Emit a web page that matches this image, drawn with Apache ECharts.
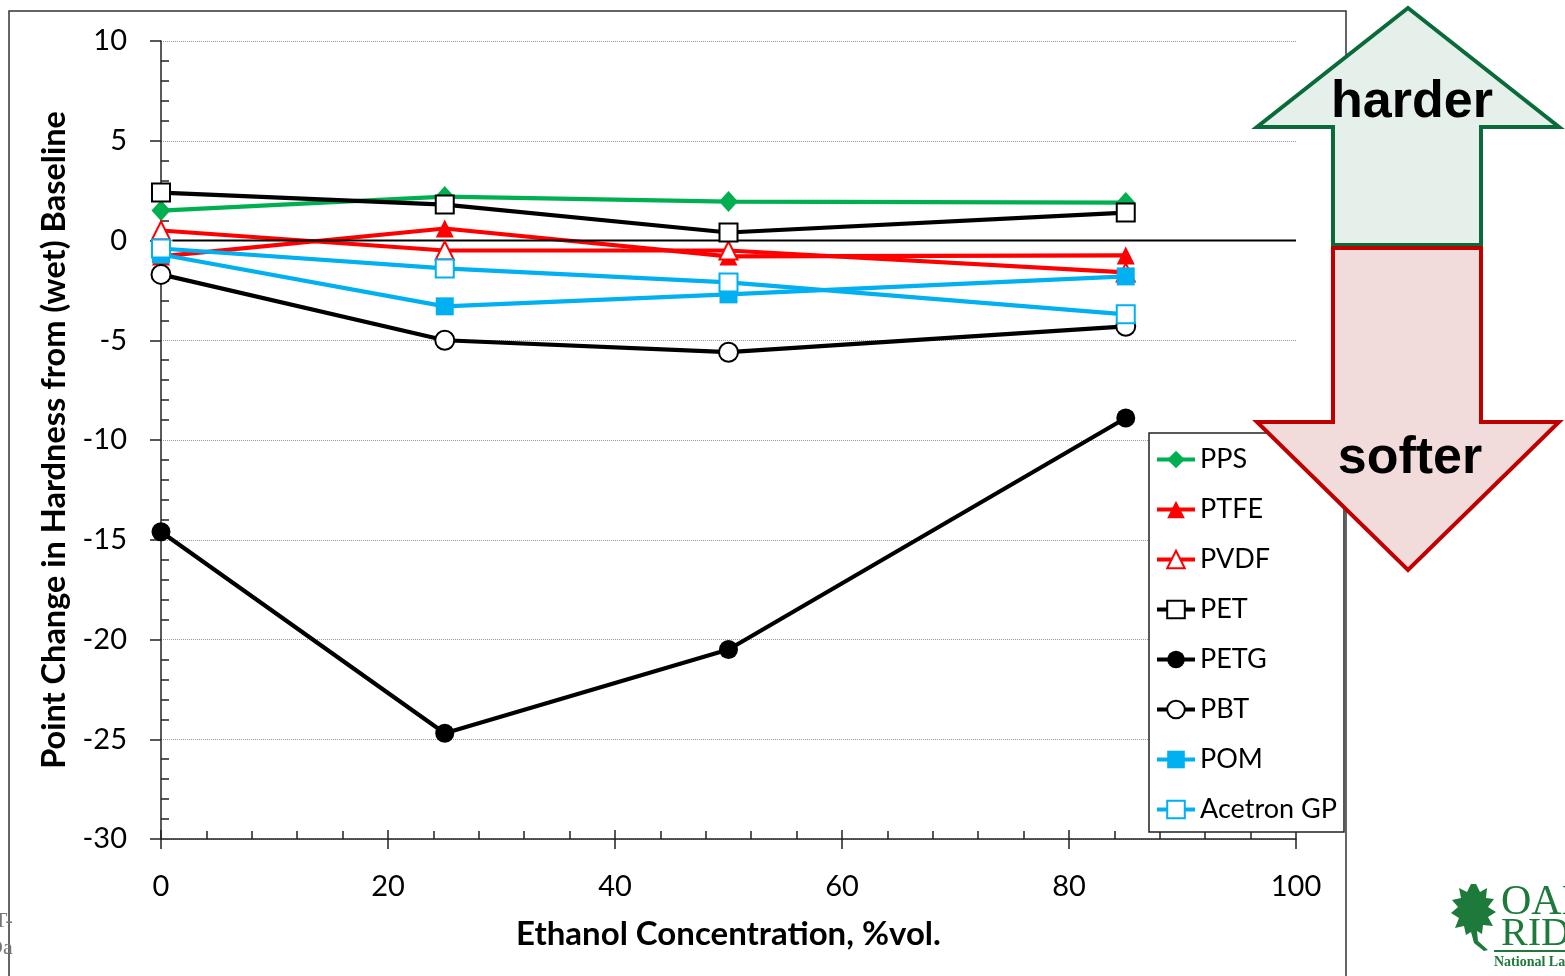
<!DOCTYPE html>
<html><head><meta charset="utf-8">
<script src="https://cdn.jsdelivr.net/npm/echarts@6/dist/echarts.min.js"></script>
<style>html,body{margin:0;padding:0;background:#fff;overflow:hidden}#c{width:1565px;height:976px}</style>
</head><body><div id="c"></div>
<script>
// ---- data ----
const ethanol = [0, 25, 50, 85];
const PPS     = [1.5, 2.2, 1.95, 1.9];
const PTFE    = [-0.8, 0.6, -0.8, -0.75];
const PVDF    = [0.5, -0.5, -0.5, -1.6];
const PET     = [2.4, 1.8, 0.4, 1.4];
const PETG    = [-14.6, -24.7, -20.5, -8.9];
const PBT     = [-1.7, -5.0, -5.6, -4.3];
const POM     = [-0.7, -3.3, -2.7, -1.8];
const Acetron = [-0.4, -1.4, -2.1, -3.7];
const xTicks  = [0, 20, 40, 60, 80, 100];
const yTicks  = [-30, -25, -20, -15, -10, -5, 0, 5, 10];
const zeroLine = [[1, 0], [100, 0]];

const FONT = 'Lato, "Open Sans", sans-serif';
const GREEN = '#00b050', RED = '#ff0000', BLUE = '#00b0f0', BLACK = '#000000';

function pts(ys){ return ethanol.map((x,i)=>[x, ys[i]]); }
function ser(name, ys, color, symbol, size){
  const empty = symbol.startsWith('empty');
  return {
    name, type:'line', data: pts(ys), symbol, symbolSize: size,
    lineStyle:{color, width:4.2}, itemStyle:{color, borderColor: color, borderWidth: empty?1.6:0},
    emphasis:{disabled:true}, animation:false, z: 3
  };
}

const chart = echarts.init(document.getElementById('c'), null, {renderer:'canvas'});
const series = [
  ser('PPS', PPS, GREEN, 'diamond', [19,21]),
  ser('PTFE', PTFE, RED, 'triangle', [18,18]),
  ser('PVDF', PVDF, RED, 'emptyTriangle', [18,18]),
  ser('PET', PET, BLACK, 'emptyRect', 18),
  ser('PETG', PETG, BLACK, 'circle', 19),
  ser('PBT', PBT, BLACK, 'emptyCircle', 19),
  ser('POM', POM, BLUE, 'rect', 18),
  ser('Acetron GP', Acetron, BLUE, 'emptyRect', 18),
  {name:'zero', type:'line', data: zeroLine, symbol:'none', lineStyle:{color:'#000', width:2.2}, z:3, animation:false, silent:true}
];

const leafPts = [[1476,884],[1480,892],[1487,888],[1486,898],[1494,899],[1488,907],[1496,912],[1488,917],[1493,926],[1483,925],[1482,934],[1477,931],[1478,941],[1488,950],[1484,951],[1474,943],[1471,932],[1466,935],[1464,926],[1455,928],[1459,918],[1451,913],[1458,907],[1452,900],[1461,898],[1459,888],[1467,892],[1471,884]];

chart.setOption({
  backgroundColor:'#fff',
  animation:false,
  textStyle:{fontFamily: FONT},
  grid:{left:161, right:269, top:41, bottom:137, containLabel:false},
  legend:{
    data:['PPS','PTFE','PVDF','PET','PETG','PBT','POM','Acetron GP'],
    orient:'vertical', left:1149, top:433, padding:[13,6,11,6],
    itemWidth:38, itemHeight:22, itemGap:23,
    lineStyle:{width:4},
    textStyle:{fontFamily:FONT, fontSize:27, color:'#000', lineHeight:26, padding:[0,0,0,0]},
    backgroundColor:'transparent', borderWidth:0, z:5,
    selectedMode:false
  },
  xAxis:[{
    type:'value', min:0, max:100, interval:20,
    axisLine:{onZero:false, lineStyle:{color:'#222', width:1.5}},
    axisTick:{show:true, inside:false, length:10, lineStyle:{color:'#222', width:1.5}},
    minorTick:{show:true, splitNumber:5, length:-8, lineStyle:{color:'#222', width:1.5}},
    splitLine:{show:false},
    axisLabel:{fontFamily:FONT, fontSize:29, color:'#000', margin:33,
      formatter: v => xTicks.includes(v) ? String(v) : ''},
    name:'Ethanol Concentration, %vol.', nameLocation:'middle', nameGap:79,
    nameTextStyle:{fontFamily:FONT, fontSize:33, fontWeight:'bold', color:'#000'}
  },{
    type:'value', min:0, max:100, interval:20, position:'bottom',
    axisLine:{show:false, onZero:false}, axisLabel:{show:false}, splitLine:{show:false},
    axisTick:{show:true, inside:true, length:9, lineStyle:{color:'#222', width:1.5}}
  }],
  yAxis:[{
    type:'value', min:-30, max:10, interval:5,
    axisLine:{show:true, onZero:false, lineStyle:{color:'#222', width:1.5}},
    axisTick:{show:true, inside:false, length:11, lineStyle:{color:'#222', width:1.5}},
    minorTick:{show:true, splitNumber:5, length:-8, lineStyle:{color:'#222', width:1.5}},
    splitLine:{show:true, lineStyle:{color:'#999', type:'dotted', width:1}},
    axisLabel:{fontFamily:FONT, fontSize:29, color:'#000', margin:34,
      formatter: v => yTicks.includes(v) ? String(v) : ''},
    name:'Point Change in Hardness from (wet) Baseline', nameLocation:'middle', nameGap:90,
    nameTextStyle:{fontFamily:FONT, fontSize:32.5, fontWeight:'bold', color:'#000'}
  }],
  series: series,
  graphic:[
    {type:'rect', z:1, silent:true, shape:{x:9, y:11, width:1337, height:990},
      style:{fill:'none', stroke:'#333', lineWidth:1.5}},
    {type:'rect', z:4, silent:true, shape:{x:1149, y:433, width:195, height:399},
      style:{fill:'#fff', stroke:'#222', lineWidth:1.5}},
    {type:'polygon', z:10, silent:true,
      shape:{points:[[1408,8],[1559,127],[1481,127],[1481,245],[1333,245],[1333,127],[1257,127]]},
      style:{fill:'#e6f0ea', stroke:'#0b6a3a', lineWidth:4, lineJoin:'miter'}},
    {type:'polygon', z:10, silent:true,
      shape:{points:[[1333,248],[1481,248],[1481,422],[1559,422],[1408,570],[1257,422],[1333,422]]},
      style:{fill:'#f2dcdb', stroke:'#c00000', lineWidth:4, lineJoin:'miter'}},
    {type:'text', z:11, silent:true, style:{text:'harder', x:1412, y:103, align:'center', verticalAlign:'middle',
      font:'bold 52px "Liberation Sans", Arial, sans-serif', fill:'#000'}},
    {type:'text', z:11, silent:true, style:{text:'softer', x:1410, y:459, align:'center', verticalAlign:'middle',
      font:'bold 52px "Liberation Sans", Arial, sans-serif', fill:'#000'}},
    {type:'polygon', z:11, silent:true, shape:{points:leafPts}, style:{fill:'#1d7a3a'}},
    {type:'text', z:11, silent:true, style:{text:'OAK', x:1501, y:903, align:'left', verticalAlign:'middle',
      font:'42px "Liberation Serif", serif', fill:'#1d7a3a'}},
    {type:'text', z:11, silent:true, style:{text:'RIDGE', x:1501, y:934, align:'left', verticalAlign:'middle',
      font:'40px "Liberation Serif", serif', fill:'#1d7a3a'}},
    {type:'rect', z:11, silent:true, shape:{x:1494, y:950, width:80, height:2}, style:{fill:'#1d7a3a'}},
    {type:'text', z:11, silent:true, style:{text:'National Laboratory', x:1494, y:962, align:'left', verticalAlign:'middle',
      font:'bold 14px "Liberation Serif", serif', fill:'#1d7a3a'}},
    {type:'text', z:11, silent:true, style:{text:'T-', x:-6, y:921, align:'left', verticalAlign:'middle',
      font:'22px "Liberation Serif", serif', fill:'#777'}},
    {type:'text', z:11, silent:true, style:{text:'Da', x:-13, y:948, align:'left', verticalAlign:'middle',
      font:'22px "Liberation Serif", serif', fill:'#777'}}
  ]
});
</script>
</body></html>
